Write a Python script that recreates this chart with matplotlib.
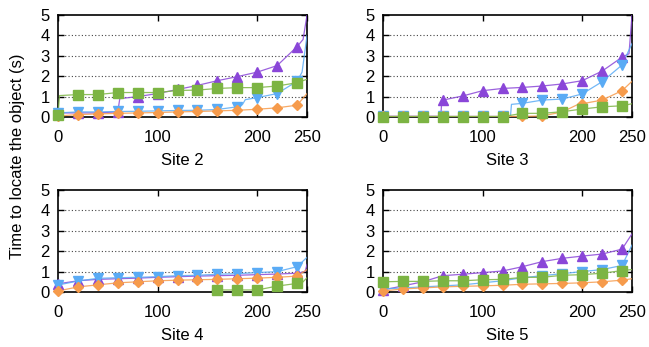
import numpy as np
import matplotlib
matplotlib.use("Agg")
import matplotlib.pyplot as plt

plt.rcParams['font.family'] = ['Liberation Sans', 'DejaVu Sans']
plt.rcParams['font.size'] = 12

# marker positions (every 20th object)
mx = [0, 20, 40, 60, 80, 100, 120, 140, 160, 180, 200, 220, 240]
nan = np.nan

sites = ["Site 2", "Site 3", "Site 4", "Site 5"]

# values at the markers, per site, per series
purple_m = [
    [0.2, 0.2, 0.2, 0.25, 1.0, 1.15, 1.35, 1.55, 1.78, 1.98, 2.2, 2.52, 3.45],
    [0.03, 0.03, 0.03, 0.83, 1.03, 1.29, 1.4, 1.45, 1.52, 1.62, 1.78, 2.25, 2.93],
    [0.4, 0.55, 0.62, 0.65, 0.68, 0.72, 0.75, 0.78, 0.8, 0.82, 0.85, 0.88, 0.92],
    [0.1, 0.3, 0.5, 0.8, 0.87, 0.95, 1.03, 1.24, 1.49, 1.65, 1.76, 1.86, 2.1],
]
blue_m = [
    [0.2, 0.25, 0.25, 0.27, 0.28, 0.3, 0.32, 0.33, 0.37, 0.5, 0.95, 1.15, 1.75],
    [0.03, 0.03, 0.03, 0.03, 0.03, 0.03, 0.03, 0.67, 0.83, 0.88, 1.13, 1.73, 2.55],
    [0.34, 0.54, 0.67, 0.7, 0.72, 0.75, 0.8, 0.82, 0.87, 0.9, 0.95, 1.0, 1.24],
    [0.15, 0.2, 0.25, 0.3, 0.35, 0.45, 0.55, 0.7, 0.8, 0.9, 1.0, 1.1, 1.3],
]
orange_m = [
    [0.05, 0.12, 0.15, 0.18, 0.2, 0.22, 0.25, 0.27, 0.3, 0.33, 0.38, 0.45, 0.58],
    [0.03, 0.03, 0.03, 0.03, 0.03, 0.03, 0.03, 0.03, 0.05, 0.25, 0.65, 0.83, 1.29],
    [0.05, 0.25, 0.35, 0.45, 0.5, 0.55, 0.58, 0.6, 0.62, 0.65, 0.68, 0.72, 0.78],
    [0.05, 0.15, 0.2, 0.25, 0.28, 0.3, 0.33, 0.38, 0.4, 0.42, 0.45, 0.5, 0.58],
]
green_m = [
    [0.12, 1.1, 1.1, 1.2, 1.2, 1.2, 1.3, 1.32, 1.4, 1.44, 1.44, 1.52, 1.68],
    [0.02, 0.02, 0.02, 0.02, 0.02, 0.02, 0.02, 0.18, 0.18, 0.26, 0.39, 0.5, 0.55],
    [nan, nan, nan, nan, nan, nan, nan, nan, 0.1, 0.1, 0.1, 0.29, 0.42],
    [0.5, 0.52, 0.52, 0.55, 0.55, 0.6, 0.62, 0.72, 0.72, 0.82, 0.85, 0.92, 1.05],
]

# extra points on the lines (jumps and the tail)
purple_x = [[58, 62, 246, 250], [58, 59, 247, 250], [248, 250], [250]]
purple_y = [[0.25, 0.9, 3.8, 5.0], [0.03, 0.75, 3.1, 5.0], [1.0, 1.35], [2.85]]
blue_x = [[185, 188, 245, 250], [128, 129, 250], [250], [250]]
blue_y = [[0.6, 0.85, 2.2, 4.0], [0.03, 0.62, 3.6], [1.7], [2.3]]
orange_x = [[250], [195, 250], [250], [250]]
orange_y = [[1.15], [0.6, 1.75], [1.1], [0.65]]
green_x = [[1.5, 250], [250], [155, 245, 250], [250]]
green_y = [[1.05, 1.85], [0.65], [0.08, 0.45, 0.7], [1.1]]

series = [
    (purple_m, purple_x, purple_y, '#8a46d8', '^', 7.0),
    (blue_m, blue_x, blue_y, '#5aabf5', 'v', 7.0),
    (orange_m, orange_x, orange_y, '#f69b4c', 'D', 5.5),
    (green_m, green_x, green_y, '#7cb443', 's', 7.5),
]

fig = plt.figure(figsize=(6.49, 3.47), dpi=100)
lefts = [0.0894, 0.5901, 0.0894, 0.5901]
bottoms = [0.6628, 0.6628, 0.1585, 0.1585]

for k in range(4):
    ax = fig.add_axes([lefts[k], bottoms[k], 0.3837, 0.294])
    for vals, ex, ey, col, mk, ms in series:
        m = np.array(vals[k], float)
        ok = ~np.isnan(m)
        xs = np.array(mx, float)[ok]
        lx = np.concatenate([xs, ex[k]])
        ly = np.concatenate([m[ok], ey[k]])
        order = np.argsort(lx, kind='stable')
        ax.plot(lx[order], ly[order], '-', color=col, lw=0.9, alpha=0.85, zorder=3)
        ax.plot(xs, m[ok], mk, color=col, ms=ms, mec=col, zorder=4, clip_on=False)
    ax.set_xlim(0, 250)
    ax.set_ylim(0, 5)
    ax.set_xticks([0, 100, 200, 250])
    ax.set_yticks([0, 1, 2, 3, 4, 5])
    ax.tick_params(direction='in', top=True, right=True, length=4, width=1)
    ax.tick_params(axis='x', pad=9)
    ax.tick_params(axis='y', pad=6)
    for y in [1, 2, 3, 4]:
        ax.axhline(y, color='#444444', lw=0.8, ls=(0, (1, 2)), zorder=1)
    for s in ax.spines.values():
        s.set_linewidth(1.2)
    ax.set_xlabel(sites[k], labelpad=6)

fig.text(0.027, 0.55, "Time to locate the object (s)", rotation=90,
         ha='center', va='center', fontsize=12)

fig.savefig("out.png", dpi=100)
